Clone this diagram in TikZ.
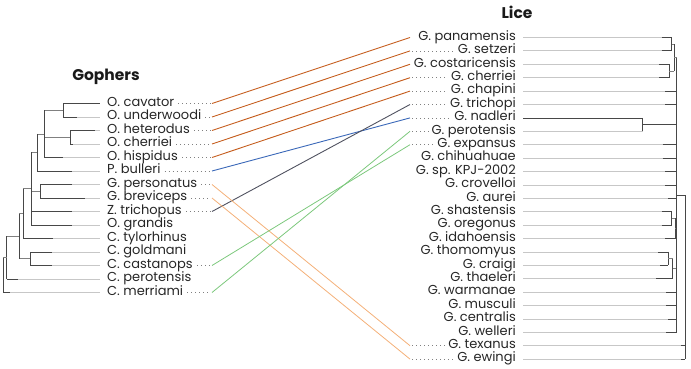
\documentclass[tikz,border=0pt]{standalone}
\usepackage{fontspec}
\setmainfont{Poppins}
\begin{document}
\begin{tikzpicture}[x=1pt,y=-1pt,
  lab/.style={font=\fontsize{13}{14}\selectfont, inner sep=0pt, text=black!85, text height=8.5pt, text depth=3pt},
  ttl/.style={font=\fontsize{15.5}{17}\selectfont\bfseries, inner sep=0pt, text=black!90},
  tl/.style={draw=black!22, line width=0.8pt},
  td/.style={draw=black!72, line width=0.8pt},
  tm/.style={draw=black!50, line width=0.8pt},
  dots/.style={draw=black!50, line width=0.7pt, dash pattern=on 0.7pt off 3.3pt},
  cdo/.style={draw={rgb,255:red,196;green,92;blue,28}, line width=0.9pt},
  cbl/.style={draw={rgb,255:red,58;green,104;blue,184}, line width=0.9pt},
  cgr/.style={draw={rgb,255:red,80;green,82;blue,96}, line width=0.9pt},
  cgn/.style={draw={rgb,255:red,124;green,200;blue,124}, line width=0.8pt},
  clo/.style={draw={rgb,255:red,244;green,176;blue,120}, line width=0.8pt},
]
\useasboundingbox (0,0) rectangle (691,369);
% titles
\node[ttl] (tG) at (106,77) {Gophers};
\node[ttl] (tL) at (517,12) {Lice};
% left labels
\foreach \t [count=\i] in {O. cavator, O. underwoodi, O. heterodus, O. cherriei, O. hispidus, P. bulleri, G. personatus, G. breviceps, Z. trichopus, O. grandis, C. tylorhinus, C. goldmani, C. castanops, C. perotensis, C. merriami}{
  \pgfmathsetmacro\yy{103.5+13.5*(\i-1)}
  \node[lab, anchor=west] (l\i) at (107,\yy) {\t};
  \coordinate (lc\i) at (212,\yy);
}
% right labels
\foreach \t [count=\j] in {G. panamensis, G. setzeri, G. costaricensis, G. cherriei, G. chapini, G. trichopi, G. nadleri, G. perotensis, G. expansus, G. chihuahuae, G. sp. KPJ-2002, G. crovelloi, G. aurei, G. shastensis, G. oregonus, G. idahoensis, G. thomomyus, G. craigi, G. thaeleri, G. warmanae, G. musculi, G. centralis, G. welleri, G. texanus, G. ewingi}{
  \pgfmathsetmacro\yy{37.5+13.4*(\j-1)}
  \node[lab, anchor=east] (r\j) at (516,\yy) {\t};
  \coordinate (rc\j) at (410,\yy);
}
% dotted leaders
\foreach \i in {1,2,3,4,5,6,7,8,9,13,15}{
  \draw[dots] ([xshift=4pt]l\i.east) -- ([xshift=-1pt]lc\i);
}
\foreach \j in {2,4,5,6,7,8,9,24,25}{
  \draw[dots] ([xshift=2pt]rc\j) -- ([xshift=-3pt]r\j.west);
}
% connectors
\foreach \i/\j in {1/1,2/2,3/3,4/4,5/5}{\draw[cdo] (lc\i) -- (rc\j);}
\draw[cbl] (lc6) -- (rc7);
\draw[cgr] (lc9) -- (rc6);
\draw[clo] (lc7) -- (rc24);
\draw[clo] (lc8) -- (rc25);
\draw[cgn] (lc13) -- (rc9);
\draw[cgn] (lc15) -- (rc8);
% left tree leaves
\foreach \a/\b [count=\i] in {63/100, 63/77, 70/95, 70/73, 44/63, 37/72, 40/72, 40/85, 31/72, 31/72, 23/53, 30/52, 30/52, 6.7/18, 3.3/10}{
  \pgfmathsetmacro\yy{103.5+13.5*(\i-1)}
  \draw[tl] (\a,\yy) -- (100,\yy);
  \draw[td] (\a,\yy) -- (\b,\yy);
}
% left tree internal
\draw[td] (63,103.5) -- (63,117);   \draw[tm] (44,110.25) -- (63,110.25);
\draw[td] (70,130.5) -- (70,144);   \draw[tm] (44,137.25) -- (70,137.25);
\draw[td] (44,110.25) -- (44,157.5); \draw[tm] (37,133.9) -- (44,133.9);
\draw[td] (37,133.9) -- (37,171);   \draw[tm] (31,152.4) -- (37,152.4);
\draw[td] (40,184.5) -- (40,198);   \draw[tm] (31,191.25) -- (40,191.25);
\draw[td] (31,152.4) -- (31,225);   \draw[tm] (23,188.7) -- (31,188.7);
\draw[td] (23,188.7) -- (23,238.5); \draw[tm] (19,213.6) -- (23,213.6);
\draw[td] (30,252) -- (30,265.5);   \draw[tm] (19,258.75) -- (30,258.75);
\draw[td] (19,213.6) -- (19,258.75); \draw[tm] (6.7,236.2) -- (19,236.2);
\draw[td] (6.7,236.2) -- (6.7,279); \draw[tm] (3.3,257.6) -- (6.7,257.6);
\draw[td] (3.3,257.6) -- (3.3,292.5);
% right tree leaves
\foreach \a/\b [count=\j] in {671.7/661.7, 671.7/661.7, 669.3/659, 669.3/659, 676.7/665, 676.7/665, 642.7/523, 642.7/642.7, 676.7/662.7, 676.7/662.7, 676.7/665, 676.7/665, 676.7/668, 671.7/661.7, 671.7/661.7, 675/665, 668.3/658, 668.3/660, 672.7/656, 676.7/666, 676.7/666, 676.7/668, 676.7/666, 685/681, 685/681}{
  \pgfmathsetmacro\yy{37.5+13.4*(\j-1)}
  \draw[tl] (523,\yy) -- (\a,\yy);
  \draw[td] (\b,\yy) -- (\a,\yy);
}
% right tree internal
\draw[td] (671.7,37.5) -- (671.7,50.9);  \draw[tm] (671.7,44.2) -- (674.3,44.2);
\draw[td] (669.3,64.3) -- (669.3,77.7);  \draw[tm] (669.3,71) -- (674.3,71);
\draw[td] (674.3,44.2) -- (674.3,71);    \draw[tm] (674.3,57.6) -- (676.7,57.6);
\draw[td] (642.7,117.9) -- (642.7,131.3); \draw[td] (642.7,124.6) -- (676.7,124.6);
\draw[td] (671.7,211.7) -- (671.7,225.1); \draw[tm] (671.7,218.4) -- (675,218.4);
\draw[td] (675,218.4) -- (675,238.5);    \draw[tm] (675,228.45) -- (676.7,228.45);
\draw[td] (668.3,251.9) -- (668.3,265.3); \draw[tm] (668.3,258.6) -- (672.7,258.6);
\draw[td] (672.7,258.6) -- (672.7,278.7); \draw[tm] (672.7,268.65) -- (676.7,268.65);
\draw[td] (676.7,57.6) -- (676.7,332.3);  \draw[td] (676.7,195) -- (685,195);
\draw[td] (685,195) -- (685,359.1);
\end{tikzpicture}
\end{document}
